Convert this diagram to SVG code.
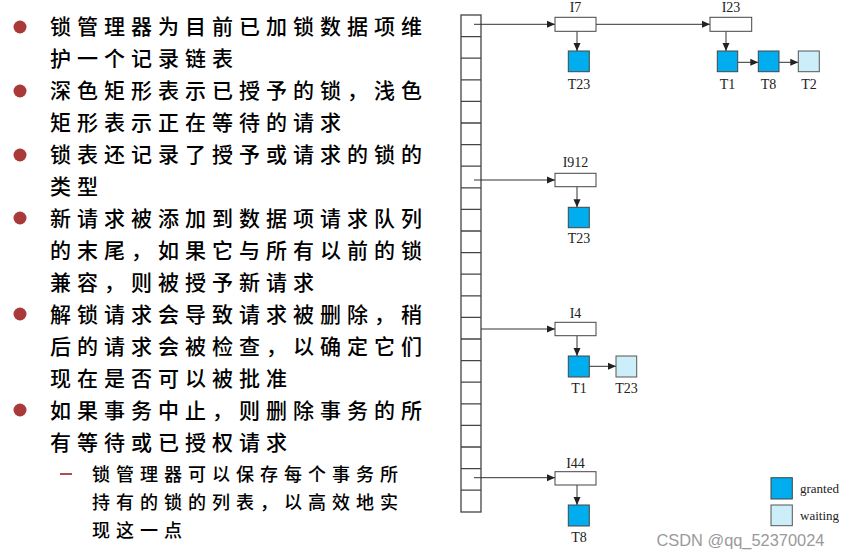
<svg xmlns="http://www.w3.org/2000/svg" width="841" height="559" viewBox="0 0 841 559">
<style>
.zh{font-family:"Noto Sans CJK SC","Noto Sans",sans-serif;font-size:21px;font-weight:500;letter-spacing:6px;fill:#000;}
.zs{font-family:"Noto Sans CJK SC","Noto Sans",sans-serif;font-size:18px;font-weight:500;letter-spacing:6px;fill:#000;}
.lb{font-family:"Liberation Serif","Times New Roman",serif;font-size:14px;fill:#222;text-anchor:middle;}
.lg{font-family:"Liberation Serif","Times New Roman",serif;font-size:13px;fill:#222;}
.box{fill:#fff;stroke:#444;stroke-width:1;}
.gr{fill:#00AEEF;stroke:#444;stroke-width:1;}
.wt{fill:#CCEEF9;stroke:#555;stroke-width:1;}
.cn{stroke:#333;stroke-width:1;fill:none;marker-end:url(#ah);}
.col{fill:#fff;stroke:#444;stroke-width:1.3;}
.bul{fill:#A83A3A;}
</style>
<defs>
<marker id="ah" markerUnits="userSpaceOnUse" markerWidth="8" markerHeight="8" refX="8" refY="4" orient="auto">
<path d="M0,0.5 L8,4 L0,7.5 z" fill="#222"/>
</marker>
</defs>
<rect width="841" height="559" fill="#fff"/>

<g id="bullets">
<circle class="bul" cx="20" cy="27" r="6.5"/>
<circle class="bul" cx="20" cy="91" r="6.5"/>
<circle class="bul" cx="20" cy="155" r="6.5"/>
<circle class="bul" cx="20" cy="218" r="6.5"/>
<circle class="bul" cx="20" cy="314" r="6.5"/>
<circle class="bul" cx="20" cy="410" r="6.5"/>
<line x1="60" y1="474" x2="72" y2="474" stroke="#A83A3A" stroke-width="1.8"/>
</g>
<g id="text">
<text class="zh" x="50" y="34">锁管理器为目前已加锁数据项维</text>
<text class="zh" x="50" y="66">护一个记录链表</text>
<text class="zh" x="50" y="98">深色矩形表示已授予的锁，浅色</text>
<text class="zh" x="50" y="130">矩形表示正在等待的请求</text>
<text class="zh" x="50" y="162">锁表还记录了授予或请求的锁的</text>
<text class="zh" x="50" y="194">类型</text>
<text class="zh" x="50" y="226">新请求被添加到数据项请求队列</text>
<text class="zh" x="50" y="258">的末尾，如果它与所有以前的锁</text>
<text class="zh" x="50" y="290">兼容，则被授予新请求</text>
<text class="zh" x="50" y="322">解锁请求会导致请求被删除，稍</text>
<text class="zh" x="50" y="354">后的请求会被检查，以确定它们</text>
<text class="zh" x="50" y="386">现在是否可以被批准</text>
<text class="zh" x="50" y="418">如果事务中止，则删除事务的所</text>
<text class="zh" x="50" y="450">有等待或已授权请求</text>
<text class="zs" x="92" y="481">锁管理器可以保存每个事务所</text>
<text class="zs" x="92" y="509">持有的锁的列表，以高效地实</text>
<text class="zs" x="92" y="537">现这一点</text>
</g>

<g id="lock-table">
<rect class="col" x="461" y="15" width="20" height="497"/>
<path stroke="#444" stroke-width="1.3" d="M461,36.6H481M461,58.2H481M461,79.8H481M461,101.4H481M461,123H481M461,144.6H481M461,166.2H481M461,187.8H481M461,209.4H481M461,231H481M461,252.6H481M461,274.2H481M461,295.8H481M461,317.4H481M461,339H481M461,360.6H481M461,382.2H481M461,403.8H481M461,425.4H481M461,447H481M461,468.6H481M461,490.2H481"/>
</g>

<g id="connectors">
<line class="cn" x1="474" y1="24.3" x2="555" y2="24.3"/>
<line class="cn" x1="596" y1="24.3" x2="710" y2="24.3"/>
<line class="cn" x1="577" y1="31.3" x2="577" y2="51"/>
<line class="cn" x1="726" y1="31.3" x2="726" y2="51"/>
<line class="cn" x1="737.7" y1="62.3" x2="758.3" y2="62.3"/>
<line class="cn" x1="779" y1="62.3" x2="798.3" y2="62.3"/>
<line class="cn" x1="474" y1="180" x2="555" y2="180"/>
<line class="cn" x1="577" y1="186.7" x2="577" y2="207.3"/>
<line class="cn" x1="481" y1="329" x2="555" y2="329"/>
<line class="cn" x1="577" y1="335.7" x2="577" y2="356"/>
<line class="cn" x1="589.3" y1="366.3" x2="616" y2="366.3"/>
<line class="cn" x1="474" y1="477.7" x2="555" y2="477.7"/>
<line class="cn" x1="577" y1="485" x2="577" y2="505"/>
</g>

<g id="I7"><rect class="box" x="555" y="17.3" width="41" height="14"/><text class="lb" x="575.5" y="12">I7</text></g>
<g id="I23"><rect class="box" x="710" y="17.3" width="41.7" height="14"/><text class="lb" x="731" y="12">I23</text></g>
<g id="I7-T23"><rect class="gr" x="568.3" y="51" width="21" height="20.7"/><text class="lb" x="579" y="89">T23</text></g>
<g id="I23-T1"><rect class="gr" x="717.3" y="51" width="20.4" height="20.7"/><text class="lb" x="727.5" y="89">T1</text></g>
<g id="I23-T8"><rect class="gr" x="758.3" y="51" width="20.7" height="20.7"/><text class="lb" x="768.5" y="89">T8</text></g>
<g id="I23-T2"><rect class="wt" x="798.3" y="51" width="21" height="20.7"/><text class="lb" x="809" y="89">T2</text></g>

<g id="I912"><rect class="box" x="555" y="173.3" width="41" height="13.4"/><text class="lb" x="575.5" y="167">I912</text></g>
<g id="I912-T23"><rect class="gr" x="568.3" y="207.3" width="21" height="20.4"/><text class="lb" x="579" y="243">T23</text></g>

<g id="I4"><rect class="box" x="555" y="322.3" width="41" height="13.4"/><text class="lb" x="575.5" y="317.5">I4</text></g>
<g id="I4-T1"><rect class="gr" x="568.3" y="356" width="21" height="21"/><text class="lb" x="579" y="392.5">T1</text></g>
<g id="I4-T23"><rect class="wt" x="616" y="356" width="20.7" height="21"/><text class="lb" x="626.5" y="392.5">T23</text></g>

<g id="I44"><rect class="box" x="555" y="471.7" width="41" height="13.3"/><text class="lb" x="575.5" y="468">I44</text></g>
<g id="I44-T8"><rect class="gr" x="568.3" y="505" width="21" height="21"/><text class="lb" x="579" y="541.5">T8</text></g>

<g id="legend">
<rect class="gr" x="771" y="477.7" width="21.3" height="21.3"/>
<text class="lg" x="800" y="493">granted</text>
<rect class="wt" x="771" y="505" width="21.3" height="20.7"/>
<text class="lg" x="800" y="520">waiting</text>
</g>

<text x="656.5" y="546" font-family="Liberation Sans, Arial, sans-serif" font-size="16.4" fill="#9a9a9a">CSDN @qq_52370024</text>
</svg>
